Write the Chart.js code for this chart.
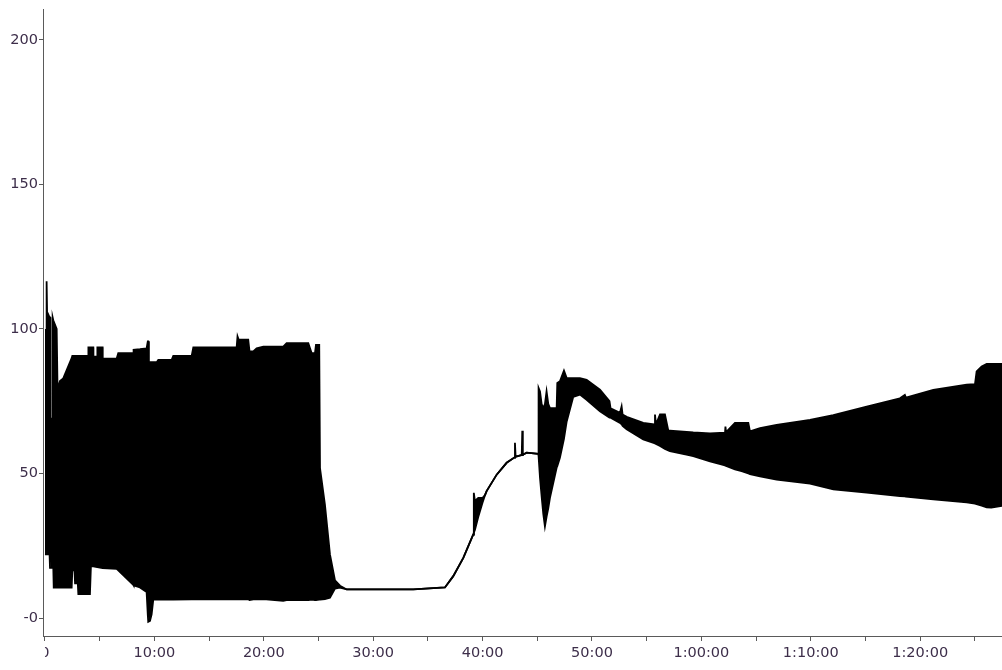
<!DOCTYPE html>
<html>
<head>
<meta charset="utf-8">
<script src="https://cdn.jsdelivr.net/npm/chart.js@4.4.1/dist/chart.umd.min.js"></script>
<style>
  html, body { margin: 0; padding: 0; background: #fff; }
  #wrap { width: 1002px; height: 670px; position: relative; }
</style>
</head>
<body>
<div id="wrap"><canvas id="grafico"></canvas></div>
<script>
// time in minutes, with the top and bottom edge of the signal at each time
const tempos = [
  0.00, 0.14, 0.15, 0.20, 0.30, 0.42, 0.46, 0.50, 0.66, 0.70, 0.76, 0.80, 1.07, 1.15, 1.37, 1.67,
  2.44, 2.50, 2.70, 2.75, 3.00, 3.05, 3.96, 3.97, 4.11, 4.20, 4.42, 4.43, 4.78, 4.79, 5.27, 5.28,
  6.55, 6.70, 8.07, 8.10, 8.68, 9.29, 9.40, 9.44, 9.50, 9.60, 9.75, 9.90, 10.21, 10.36, 11.58, 11.73,
  13.41, 13.56, 17.52, 17.60, 17.70, 18.58, 18.70, 19.04, 19.35, 19.96, 21.78, 22.09, 24.07, 24.38,
  24.68, 24.77, 25.07, 25.14, 25.59, 26.05, 26.51, 26.97, 27.58, 33.67, 36.56, 37.32, 38.24, 39.15,
  39.20, 39.30, 39.61, 40.00, 40.22, 40.37, 41.29, 42.20, 42.90, 42.96, 43.02, 43.58, 43.63, 43.68,
  44.03, 45.09, 45.12, 45.25, 45.40, 45.55, 45.70, 45.85, 46.01, 46.16, 46.77, 46.83, 47.07, 47.44,
  47.69, 48.29, 48.90, 49.51, 50.73, 51.60, 51.70, 52.56, 52.71, 52.80, 53.17, 54.69, 55.70, 55.76,
  55.85, 56.22, 56.67, 56.98, 57.13, 58.96, 59.26, 60.79, 62.16, 62.20, 62.26, 63.07, 63.68, 64.29,
  64.44, 65.36, 66.88, 69.93, 72.06, 75.11, 78.15, 78.60, 78.70, 81.20, 84.25, 85.01, 85.16, 85.62,
  86.08, 86.50, 87.48
];
const superior = [
  99.7, 99.7, 116.5, 104, 105, 104, 104, 69, 69, 104, 103, 103, 100, 79, 82, 82.9,
  89.9, 90.7, 90.7, 90.7, 90.7, 90.7, 90.7, 93.6, 93.6, 93.6, 93.6, 90.4, 90.4, 93.6, 93.6, 89.7,
  89.7, 91.6, 91.6, 92.8, 93.0, 93.3, 95.7, 95.7, 88.5, 88.5, 88.5, 88.5, 88.5, 89.3, 89.3, 90.7,
  90.7, 93.6, 93.6, 97.4, 96.3, 96.3, 92.2, 92.2, 93.3, 93.9, 93.9, 95.1, 95.1, 91.6,
  91.6, 94.5, 94.5, 51.9, 39.2, 22, 13, 11.2, 9.9, 9.9, 10.6, 14.5, 20.8, 28.9,
  43.3, 40.5, 41.6, 41.6, 42.5, 43.9, 49.6, 53.7, 55.5, 60.6, 55.8, 56.4, 64.8, 56.5,
  57.2, 56.8, 79.6, 78.4, 74, 72.6, 74, 78.4, 74, 72.6, 72.6, 81.3, 81.9, 85.6,
  83.0, 83.0, 83.0, 82.4, 79.0, 75.0, 72.5, 71.0, 73.2, 70.4, 69.6, 67.5, 67.0, 70.4,
  67.0, 70.4, 70.4, 64.8, 64.8, 64.3, 64.2, 63.9, 64.1, 66.2, 64.3, 67.5, 67.5, 67.5,
  64.6, 65.7, 66.8, 68.5, 70.2, 73.1, 76, 77.2, 76.2, 78.9, 80.7, 80.9, 85.3, 87,
  87.9, 87.9, 87.9
];
const inferior = [
  22, 22, 22, 22, 22, 22, 17.4, 17.4, 17.4, 17.4, 17.4, 10.5, 10.5, 10.5, 10.5, 10.5,
  10.5, 16.5, 16.5, 12, 12, 8.3, 8.3, 8.3, 8.3, 17.9, 17.9, 17.9, 17.6, 17.6, 17.3, 17.3,
  17, 16.5, 11.5, 11.3, 10.6, 9, 1, -1.3, -1.3, -1, 1.3, 6.4, 6.4, 6.4, 6.4, 6.4,
  6.5, 6.5, 6.5, 6.5, 6.5, 6.5, 6.2, 6.5, 6.5, 6.6, 6.0, 6.2, 6.2, 6.4,
  6.2, 6.2, 6.4, 6.4, 6.6, 7, 10.2, 10.5, 9.9, 9.9, 10.6, 14.5, 20.8, 28.9,
  29.5, 30.5, 35, 40, 42.5, 43.9, 49.6, 53.7, 55.5, 55.6, 55.8, 56.4, 56.4, 56.5,
  57.2, 56.8, 56, 48.5, 42, 36, 31.7, 35, 38, 41.6, 52, 52.5, 55.4, 62,
  68.0, 76.5, 77.3, 75.5, 71.5, 69.3, 69.3, 67.5, 67.0, 66.5, 65.3, 61.8, 60.5, 60.4,
  60.2, 59.5, 58.5, 58, 57.7, 56.3, 56.0, 54.2, 52.8, 52.7, 52.6, 51.4, 50.8, 50.0,
  49.8, 49.0, 47.9, 46.5, 44.5, 43.4, 42.2, 42.1, 42.0, 41.1, 40, 39.6, 39.4, 38.9,
  38.3, 38.2, 38.8
];

// axis ticks and their texts
const xTicks = [0, 5, 10, 15, 20, 25, 30, 35, 40, 45, 50, 55, 60, 65, 70, 75, 80, 85];
const xLabels = ['0', '', '10:00', '', '20:00', '', '30:00', '', '40:00', '', '50:00', '', '1:00:00', '', '1:10:00', '', '1:20:00', ''];
const yTicks = [0, 50, 100, 150, 200];
const yLabels = ['-0', '50', '100', '150', '200'];

const corTexto = '#3d2e4a';
const corEixo = '#5a5a5a';
const fonte = { family: 'DejaVu Sans', size: 14.5 };

// the first time label is cut in half at the left edge
const cortaPrimeiroRotulo = {
  id: 'cortaPrimeiroRotulo',
  afterDraw(chart) {
    const c = chart.ctx;
    const x0 = chart.scales.x.getPixelForValue(0);
    c.save();
    c.fillStyle = '#fff';
    c.fillRect(x0 - 10, chart.chartArea.bottom + 8, 10, 24);
    c.restore();
  }
};

function criarGrafico() {
  const ctx = document.getElementById('grafico').getContext('2d');
  new Chart(ctx, {
    type: 'line',
    data: {
      datasets: [
        {
          data: tempos.map((t, i) => ({ x: t, y: superior[i] })),
          borderColor: '#000',
          backgroundColor: '#000',
          borderWidth: 1.8,
          pointRadius: 0,
          tension: 0,
          fill: '+1'
        },
        {
          data: tempos.map((t, i) => ({ x: t, y: inferior[i] })),
          borderColor: '#000',
          borderWidth: 1.8,
          pointRadius: 0,
          tension: 0,
          fill: false
        }
      ]
    },
    options: {
      responsive: true,
      maintainAspectRatio: false,
      animation: false,
      devicePixelRatio: 1,
      layout: { padding: { top: 8, left: 0, right: 0, bottom: 0 } },
      plugins: { legend: { display: false }, tooltip: { enabled: false } },
      scales: {
        x: {
          type: 'linear',
          min: -0.18,
          max: 87.48,
          afterBuildTicks: (s) => { s.ticks = xTicks.map((v) => ({ value: v })); },
          afterFit: (s) => { s.height = 34; },
          grid: { drawOnChartArea: false, tickLength: 5, color: corEixo },
          border: { color: corEixo, width: 1 },
          ticks: {
            autoSkip: false,
            maxRotation: 0,
            padding: 4,
            color: corTexto,
            font: fonte,
            callback: (v) => xLabels[xTicks.indexOf(v)]
          }
        },
        y: {
          min: -6.2,
          max: 210.4,
          afterBuildTicks: (s) => { s.ticks = yTicks.map((v) => ({ value: v })); },
          afterFit: (s) => { s.width = 43; },
          grid: { drawOnChartArea: false, tickLength: 4, color: corEixo },
          border: { color: corEixo, width: 1 },
          ticks: {
            padding: 1,
            color: corTexto,
            font: fonte,
            callback: (v) => yLabels[yTicks.indexOf(v)]
          }
        }
      }
    },
    plugins: [cortaPrimeiroRotulo]
  });
}

criarGrafico();
</script>
</body>
</html>
